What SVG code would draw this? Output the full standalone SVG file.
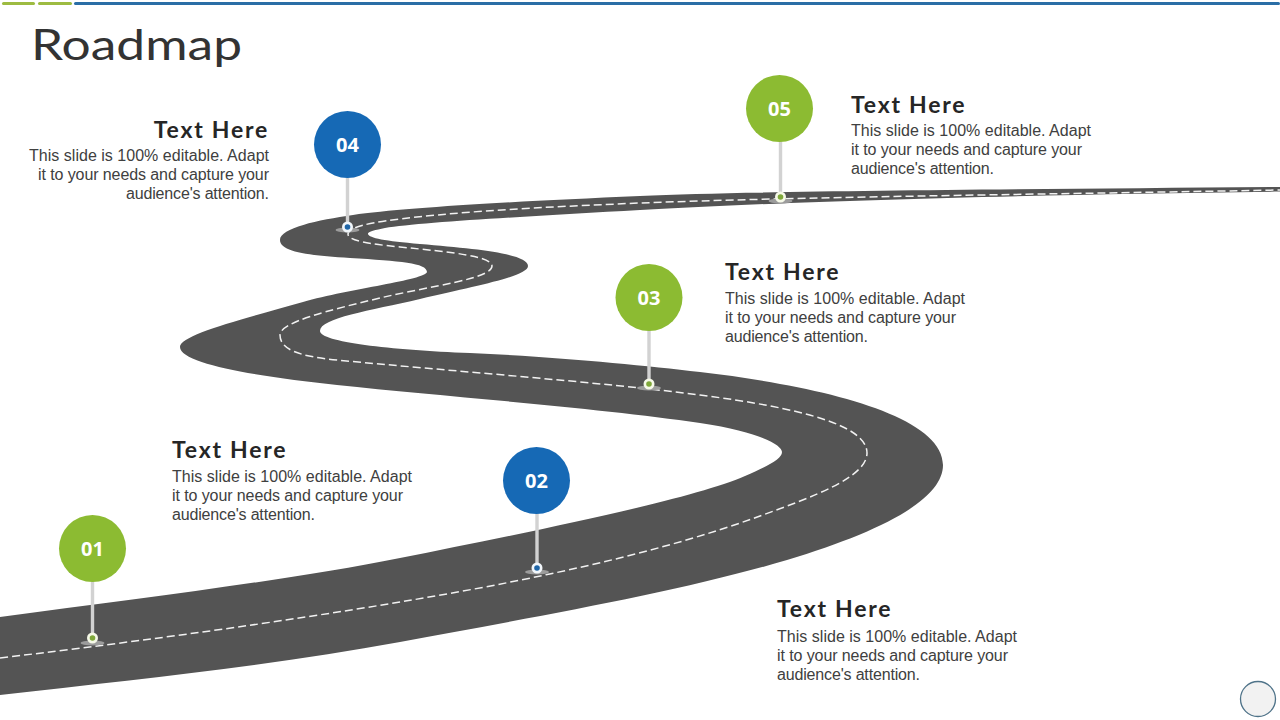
<svg xmlns="http://www.w3.org/2000/svg" width="1280" height="720" viewBox="0 0 1280 720">
<style>
.t{font-family:"Liberation Sans",Arial,sans-serif;font-size:16px;fill:#404040}
.h{font-family:"Lato","Liberation Sans",sans-serif;font-size:23px;font-weight:700;fill:#262626;letter-spacing:1.750px}
.n{font-family:"Open Sans","Liberation Sans",sans-serif;font-size:20px;font-weight:700;fill:#fff;text-anchor:middle}
.e{text-anchor:end}
.stem{stroke:#d2d2d2;stroke-width:3.400}
.sh{fill:#9c9c9c}
.g{fill:#8cbb32}.b{fill:#1669b5}
.hg{fill:#f6f9e8}.hb{fill:#f2f7fb}
.dg{fill:#7fa83a}.db{fill:#1f66a8}
</style>
<rect width="1280" height="720" fill="#fff"/>
<g id="topbar">
<rect x="2" y="2" width="33" height="3" rx="1.500" fill="#9dbb41"/>
<rect x="38" y="2" width="34" height="3" rx="1.500" fill="#9dbb41"/>
<rect x="74" y="2" width="1206" height="3" rx="1.500" fill="#2a6ea6"/>
</g>
<text id="title" x="31" y="60" font-family="Lato,'Liberation Sans',sans-serif" font-size="42" fill="#333" textLength="211" lengthAdjust="spacingAndGlyphs">Roadmap</text>
<g id="road">
<path fill="#545454" d="M0 617C150 597 290 580 400 558C530 532 690 500 745 476C768 466 782 459 782 452C782 445 760 432 700 423C600 408 450 397 337 385C260 377 180 364 180 347C180 335 240 320 303 302C350 288.600 425 280 427 272C427 263 400 261 350 258C310 255.600 280 252 280 240C280 228 318 220 353 215C400 208.300 500 202 640 196C760 191 1000 189.500 1280 187L1280 191.600C1000 195 780 202 640 210C540 215.700 420 222 385 228C375 230 367 232 368 234C369 238 385 241 420 244C480 249 528 254 528 266C528 276 480 285 420 299C370 310.700 320 318 320 331C320 342 390 350 470 353C560 357 640 365 700 372C820 386 943 415 943 465C943 500 880 532 787 560C680 592 530 618 400 642C270 666 130 680 0 695Z"/>
<path fill="none" stroke="#f2f2f2" stroke-width="1.500" stroke-dasharray="8 4" d="M0 658C150 640 280 622 400 602C520 582 650 556 760 516C815 496 867 477 867 453C867 425 800 408 700 395C600 382 450 371 337 360C300 356.400 280 350 280 335C280 322 330 310 380 298C430 286 492 279 492 266C492 256 450 252 400 247C370 244 348 241 348 234C348 225 385 220 437 215C500 209 570 206 640 203C800 197 1000 195 1280 190"/>
</g>
<g id="connectors">
<line class="stem" x1="92.500" y1="580" x2="92.500" y2="638"/>
<line class="stem" x1="537" y1="512" x2="537" y2="568"/>
<line class="stem" x1="649" y1="329" x2="649" y2="384"/>
<line class="stem" x1="347.500" y1="176" x2="347.500" y2="227"/>
<line class="stem" x1="780.500" y1="140" x2="780.500" y2="197"/>
</g>
<g id="node-01"><ellipse class="sh" cx="92.500" cy="643" rx="12" ry="2.500"/><circle class="hg" cx="92.500" cy="638" r="5.500"/><circle class="dg" cx="92.500" cy="638" r="2.800"/><circle class="g" cx="92.500" cy="548.500" r="33.500"/><text class="n" x="92.500" y="556">01</text></g>
<g id="node-02"><ellipse class="sh" cx="537" cy="572" rx="12" ry="2.500"/><circle class="hb" cx="537" cy="568" r="5.500"/><circle class="db" cx="537" cy="568" r="2.800"/><circle class="b" cx="536.500" cy="480.500" r="33.500"/><text class="n" x="536.500" y="488">02</text></g>
<g id="node-03"><ellipse class="sh" cx="649" cy="388" rx="12" ry="2.500"/><circle class="hg" cx="649" cy="384" r="5.500"/><circle class="dg" cx="649" cy="384" r="2.800"/><circle class="g" cx="649" cy="297.500" r="33.500"/><text class="n" x="649" y="305">03</text></g>
<g id="node-04"><ellipse class="sh" cx="347.500" cy="230" rx="12" ry="2.500"/><circle class="hb" cx="347.500" cy="227" r="5.500"/><circle class="db" cx="347.500" cy="227" r="2.800"/><circle class="b" cx="347.500" cy="144.500" r="33.500"/><text class="n" x="347.500" y="152">04</text></g>
<g id="node-05"><ellipse class="sh" cx="780.500" cy="201" rx="12" ry="2.500"/><circle class="hg" cx="780.500" cy="197" r="5.500"/><circle class="dg" cx="780.500" cy="197" r="2.800"/><circle class="g" cx="779.500" cy="108.500" r="33.500"/><text class="n" x="779.500" y="116">05</text></g>
<g id="label-04"><text class="h e" x="269" y="138">Text Here</text><text class="t e" x="269" y="161" textLength="240">This slide is 100% editable. Adapt</text><text class="t e" x="269" y="180" textLength="231">it to your needs and capture your</text><text class="t e" x="269" y="199" textLength="143">audience's attention.</text></g>
<g id="label-05"><text class="h" x="851" y="113">Text Here</text><text class="t" x="851" y="136" textLength="240">This slide is 100% editable. Adapt</text><text class="t" x="851" y="155" textLength="231">it to your needs and capture your</text><text class="t" x="851" y="174" textLength="143">audience's attention.</text></g>
<g id="label-03"><text class="h" x="725" y="280">Text Here</text><text class="t" x="725" y="304" textLength="240">This slide is 100% editable. Adapt</text><text class="t" x="725" y="323" textLength="231">it to your needs and capture your</text><text class="t" x="725" y="342" textLength="143">audience's attention.</text></g>
<g id="label-01"><text class="h" x="172" y="458">Text Here</text><text class="t" x="172" y="482" textLength="240">This slide is 100% editable. Adapt</text><text class="t" x="172" y="501" textLength="231">it to your needs and capture your</text><text class="t" x="172" y="520" textLength="143">audience's attention.</text></g>
<g id="label-02"><text class="h" x="777" y="617">Text Here</text><text class="t" x="777" y="642" textLength="240">This slide is 100% editable. Adapt</text><text class="t" x="777" y="661" textLength="231">it to your needs and capture your</text><text class="t" x="777" y="680" textLength="143">audience's attention.</text></g>
<circle id="nav" cx="1258" cy="699" r="17.500" fill="#f2f2f2" stroke="#4f7389" stroke-width="1.300"/>
</svg>
